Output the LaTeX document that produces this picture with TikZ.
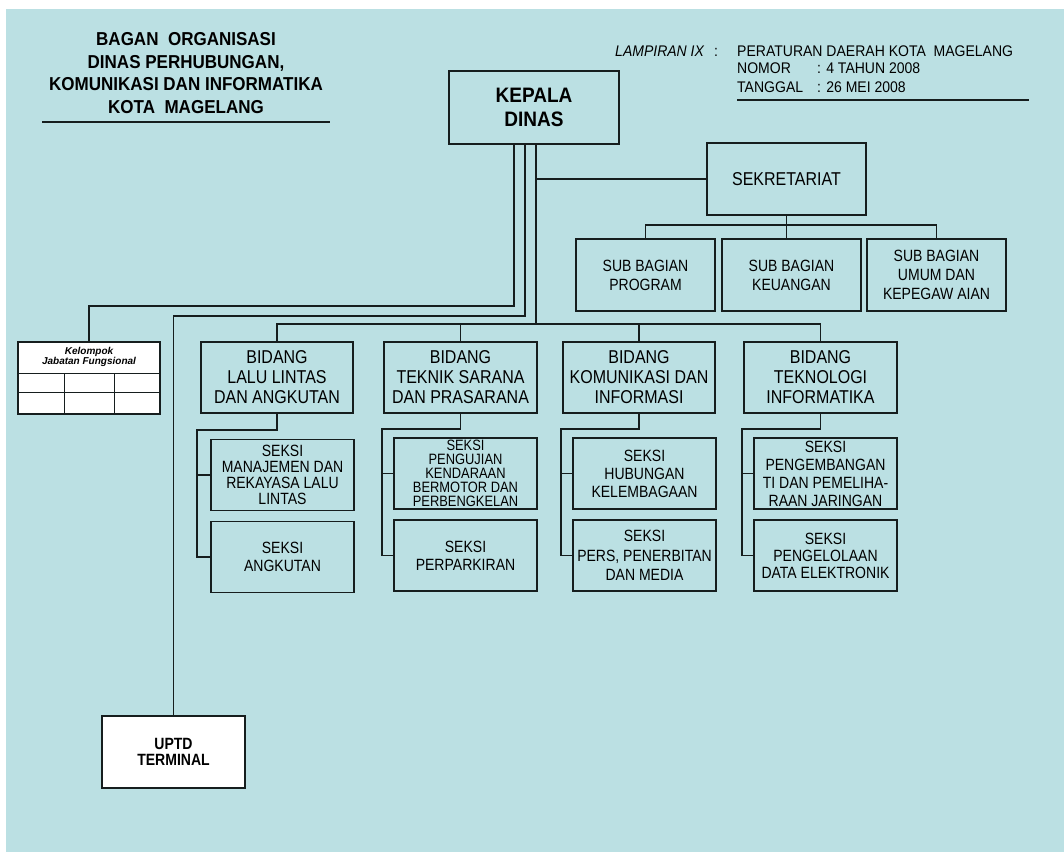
\documentclass[tikz,border=0pt]{standalone}
\usepackage{fontspec}
\setmainfont{Liberation Sans}
\newfontfamily\tallA{Liberation Sans}[FakeStretch=0.86]
\newfontfamily\tallB{Liberation Sans}[FakeStretch=0.91]
\definecolor{bg}{RGB}{187,224,227}
\definecolor{ln}{RGB}{22,30,30}
\begin{document}
\begin{tikzpicture}[x=1pt,y=-1pt,
  box/.style={draw=ln, line width=1.4pt, inner sep=0pt, align=center, text=black},
  kdbox/.style={box, minimum width=170pt, minimum height=73pt, font=\tallB\fontsize{20.9}{24}\selectfont\bfseries},
  sekbox/.style={box, minimum width=159pt, minimum height=72pt, font=\tallA\fontsize{18.6}{20}\selectfont},
  subbox/.style={box, minimum width=139pt, minimum height=72pt, font=\tallA\fontsize{16.3}{19}\selectfont},
  bidbox/.style={box, minimum width=152pt, minimum height=71pt, font=\tallA\fontsize{18.6}{20}\selectfont},
  sekbox2/.style={box, minimum width=143pt, minimum height=71pt, font=\tallA\fontsize{16.3}{18}\selectfont},
  whitebox/.style={box, fill=white, minimum width=143pt, minimum height=72pt},
  conn/.style={draw=ln, line width=1.3pt},
  grid/.style={draw=ln, line width=1pt},
  titletext/.style={inner sep=0pt, anchor=base, font=\tallB\fontsize{18.7}{22}\selectfont\bfseries},
  lamp/.style={inner sep=0pt, anchor=base west, font=\tallB\fontsize{15.4}{18}\selectfont}
]
\useasboundingbox (0,0) rectangle (1064,852);
\fill[bg] (6,9) rectangle (1064,852);

% title
\node[titletext] (t1) at (186,45) {BAGAN\ \ ORGANISASI};
\node[titletext] (t2) at (186,68) {DINAS PERHUBUNGAN,};
\node[titletext] (t3) at (186,90) {KOMUNIKASI DAN INFORMATIKA};
\node[titletext] (t4) at (186,113) {KOTA\ \ MAGELANG};
\draw[conn] (42,122) -- (330,122);

% lampiran
\node[lamp] (l0) at (615,56) {\itshape LAMPIRAN IX};
\node[lamp] (l0c) at (714,56) {:};
\node[lamp] (l1) at (737,56) {PERATURAN DAERAH KOTA\ \ MAGELANG};
\node[lamp] (l2) at (737,73) {\makebox[80pt][l]{NOMOR}: 4 TAHUN 2008};
\node[lamp] (l3) at (737,92) {\makebox[80pt][l]{TANGGAL}: 26 MEI 2008};
\draw[conn] (737,100) -- (1029,100);

% main boxes
\node[kdbox] (kd) at (534,107.5) {KEPALA\\DINAS};
\node[sekbox] (sek) at (786.5,179) {SEKRETARIAT};
\node[subbox] (sb1) at (645.5,275) {SUB BAGIAN\\PROGRAM};
\node[subbox] (sb2) at (791.5,275) {SUB BAGIAN\\KEUANGAN};
\node[subbox] (sb3) at (936.5,275) {SUB BAGIAN\\UMUM DAN\\KEPEGAW AIAN};

\node[bidbox] (b1) at (277,377.5) {BIDANG\\LALU LINTAS\\DAN ANGKUTAN};
\node[bidbox, minimum width=153pt] (b2) at (460.5,377.5) {BIDANG\\TEKNIK SARANA\\DAN PRASARANA};
\node[bidbox] (b3) at (639,377.5) {BIDANG\\KOMUNIKASI DAN\\INFORMASI};
\node[bidbox, minimum width=153pt] (b4) at (820.5,377.5) {BIDANG\\TEKNOLOGI\\INFORMATIKA};

\node[sekbox2, font=\tallA\fontsize{16.3}{16}\selectfont] (s11) at (282.5,475) {SEKSI\\MANAJEMEN DAN\\REKAYASA LALU\\LINTAS};
\node[sekbox2] (s12) at (282.5,557) {SEKSI\\ANGKUTAN};
\node[sekbox2, font=\tallA\fontsize{15}{14}\selectfont] (s21) at (465.5,473.5) {SEKSI\\PENGUJIAN\\KENDARAAN\\BERMOTOR DAN\\PERBENGKELAN};
\node[sekbox2] (s22) at (465.5,555.5) {SEKSI\\PERPARKIRAN};
\node[sekbox2] (s31) at (644.5,473.5) {SEKSI\\HUBUNGAN\\KELEMBAGAAN};
\node[sekbox2, font=\tallA\fontsize{16.3}{19.5}\selectfont] (s32) at (644.5,555.5) {SEKSI\\PERS, PENERBITAN\\DAN MEDIA};
\node[sekbox2] (s41) at (825.5,473.5) {SEKSI\\PENGEMBANGAN\\TI DAN PEMELIHA-\\RAAN JARINGAN};
\node[sekbox2, font=\tallA\fontsize{16.3}{17}\selectfont] (s42) at (825.5,555.5) {SEKSI\\PENGELOLAAN\\DATA ELEKTRONIK};

% kelompok jabatan fungsional
\node[whitebox, minimum width=142pt] (kjf) at (89,378) {};
\node[inner sep=0pt, align=center, font=\fontsize{10}{10}\selectfont\bfseries\itshape] (kjft) at (89,357) {Kelompok\\Jabatan Fungsional};
\draw[grid] (18,373) -- (160,373);
\draw[grid] (18,392) -- (160,392);
\draw[grid] (64,373) -- (64,414);
\draw[grid] (114,373) -- (114,414);

% UPTD
\node[whitebox, font=\tallA\fontsize{16.3}{16}\selectfont\bfseries] (uptd) at (173.5,752) {UPTD\\TERMINAL};

% connectors from kepala dinas
\coordinate (j1) at (514,306);
\coordinate (j2) at (525,316);
\coordinate (bus) at (536,324);
\coordinate (sj) at (536,179);
\draw[conn] ([xshift=-20pt]kd.south) -- (j1) -| (kjf.north);
\draw[conn] ([xshift=-9pt]kd.south) -- (j2) -| (uptd.north);
\draw[conn] ([xshift=2pt]kd.south) -- (bus);
\draw[conn] (sj) -- (sek.west);

% sekretariat
\coordinate (sbus) at (788,225);
\draw[conn] (sek.south) -- (sek.south |- sb2.north);
\draw[conn] (sb1.north) |- (sbus) -| (sb3.north);

% bidang bus
\draw[conn] (b1.north) |- (bus) -| (b4.north);
\draw[conn] (b2.north) -- (b2.north |- bus);
\draw[conn] (b3.north) -- (b3.north |- bus);

% bidang to seksi
\coordinate (r1) at (197,430);
\coordinate (r2) at (382,429);
\coordinate (r3) at (561,429);
\coordinate (r4) at (742,429);
\draw[conn] (b1.south) |- (r1) |- (s12.west);
\draw[conn] (r1 |- s11.west) -- (s11.west);
\draw[conn] (b2.south) |- (r2) |- (s22.west);
\draw[conn] (r2 |- s21.west) -- (s21.west);
\draw[conn] (b3.south) |- (r3) |- (s32.west);
\draw[conn] (r3 |- s31.west) -- (s31.west);
\draw[conn] (b4.south) |- (r4) |- (s42.west);
\draw[conn] (r4 |- s41.west) -- (s41.west);
\end{tikzpicture}
\end{document}
